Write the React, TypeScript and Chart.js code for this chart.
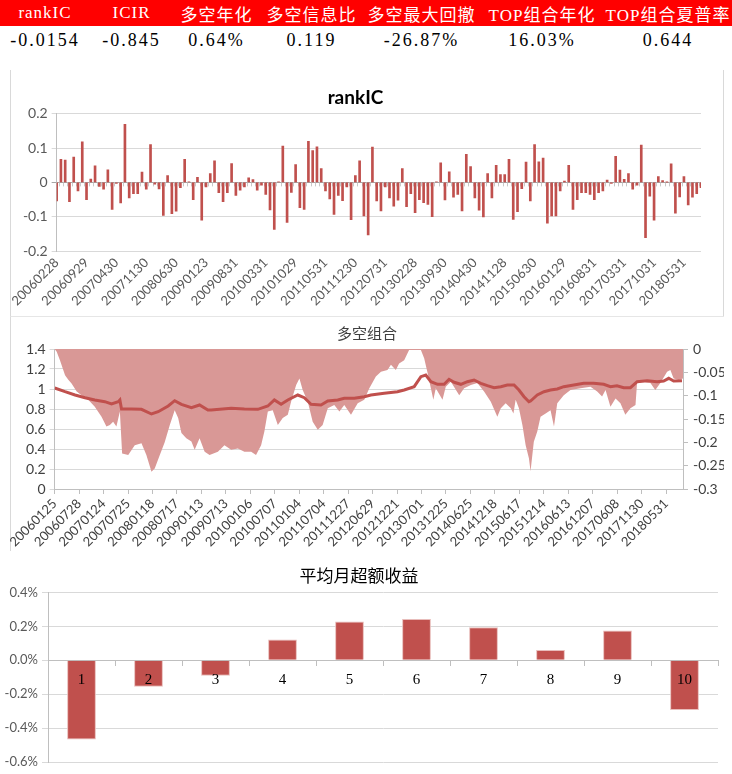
import React, { useEffect, useRef } from 'react';
import { Chart, registerables } from 'chart.js';

// Register Chart.js components
Chart.register(...registerables);

// ---- summary table ----
const statNames = ['rankIC', 'ICIR', '多空年化', '多空信息比', '多空最大回撤', 'TOP组合年化', 'TOP组合夏普率'];
const statValues = ['-0.0154', '-0.845', '0.64%', '0.119', '-26.87%', '16.03%', '0.644'];

// ---- rankIC (monthly, 200602 .. 201809) ----
const icTickLabels = [
  '20060228', '20060929', '20070430', '20071130', '20080630', '20090123', '20090831', '20100331',
  '20101029', '20110531', '20111230', '20120731', '20130228', '20130930', '20140430', '20141128',
  '20150630', '20160129', '20160831', '20170331', '20171031', '20180531',
];
const icValues = [
  -0.054, 0.067, 0.065, -0.056, 0.074, -0.025, 0.118, -0.05, 0.01, 0.048,
  -0.012, -0.02, 0.037, -0.079, -0.003, -0.06, 0.169, -0.045, -0.033, -0.033,
  0.03, -0.02, 0.11, -0.005, -0.019, -0.096, 0.02, -0.091, -0.084, -0.015,
  0.067, 0.002, -0.05, 0.015, -0.11, -0.013, 0.026, 0.063, -0.03, -0.056,
  -0.03, 0.055, -0.038, -0.023, -0.013, 0.013, 0.008, -0.023, -0.008, -0.035,
  -0.08, -0.137, 0.002, 0.106, -0.117, -0.029, 0.052, -0.074, -0.079, 0.12,
  0.093, 0.104, 0.04, -0.025, -0.048, -0.093, -0.038, -0.053, -0.013, -0.109,
  0.02, 0.063, -0.098, -0.153, 0.103, -0.054, -0.083, -0.013, -0.045, -0.069,
  -0.052, 0.04, -0.071, -0.033, -0.088, -0.05, -0.059, -0.064, -0.1, 0.002,
  0.057, -0.051, 0.031, -0.043, -0.035, -0.083, 0.082, 0.046, -0.045, -0.081,
  -0.101, 0.026, -0.045, 0.05, 0.023, 0.023, 0.067, -0.108, -0.085, -0.018,
  0.059, -0.054, 0.11, 0.06, 0.071, -0.119, -0.098, -0.098, -0.025, 0.004,
  0.05, -0.079, -0.05, -0.03, -0.03, -0.035, -0.05, -0.03, -0.025, 0.007,
  -0.003, 0.076, 0.036, 0.009, 0.026, -0.02, -0.008, 0.109, -0.161, -0.04,
  -0.11, 0.017, 0.005, 0.001, 0.054, -0.09, -0.042, 0.017, -0.066, -0.043,
  -0.033, -0.015,
];

// ---- 多空组合 (daily trading-day index) ----
const lsTickLabels = [
  '20060125', '20060728', '20070124', '20070725', '20080118', '20080717', '20090113', '20090713',
  '20100106', '20100707', '20110104', '20110704', '20111227', '20120629', '20121221', '20130701',
  '20131225', '20140625', '20141218', '20150617', '20151214', '20160613', '20161207', '20170608',
  '20171130', '20180531',
];
const lsTickStep = 120;
const lsLastDay = 3083;

// long-short NAV (left axis)
const navDays = [
  0, 51, 100, 149, 197, 246, 279, 312, 320, 328, 377, 426, 475, 508, 557, 589, 622, 671, 711, 752,
  768, 866, 931, 997, 1046, 1078, 1111, 1144, 1193, 1225, 1258, 1307, 1340, 1389, 1421, 1470, 1519, 1552, 1617, 1682,
  1715, 1764, 1797, 1821, 1846, 1879, 1911, 1935, 1960, 1993, 2025, 2058, 2091, 2123, 2156, 2189, 2221, 2254, 2278, 2303,
  2327, 2335, 2368, 2401, 2433, 2466, 2498, 2547, 2596, 2645, 2694, 2727, 2759, 2792, 2825, 2858, 2907, 2956, 2988, 3013,
  3037, 3078,
];
const navValues = [
  1.01, 0.973, 0.94, 0.913, 0.89, 0.873, 0.85, 0.873, 0.89, 0.8, 0.8, 0.797, 0.75, 0.773, 0.83, 0.883, 0.847, 0.813, 0.84, 0.79,
  0.79, 0.807, 0.8, 0.797, 0.83, 0.89, 0.847, 0.89, 0.94, 0.913, 0.847, 0.84, 0.88, 0.89, 0.907, 0.907, 0.923, 0.94, 0.957, 0.973,
  0.99, 1.023, 1.123, 1.14, 1.073, 1.047, 1.047, 1.097, 1.067, 1.047, 1.073, 1.09, 1.057, 1.033, 1.013, 1.023, 1.04, 1.04, 0.99, 0.923,
  0.873, 0.88, 0.94, 0.973, 0.99, 1.0, 1.023, 1.04, 1.057, 1.057, 1.047, 1.023, 1.033, 1.013, 1.013, 1.073, 1.083, 1.073, 1.08, 1.107,
  1.08, 1.083,
];

// drawdown (right axis)
const drawdownDays = [
  0, 10, 26, 51, 67, 83, 108, 132, 165, 197, 230, 254, 271, 287, 303, 320, 331, 361, 393, 426,
  450, 475, 491, 516, 540, 565, 589, 606, 622, 646, 671, 687, 711, 736, 760, 801, 833, 866, 899, 931,
  964, 988, 1013, 1029, 1046, 1070, 1095, 1119, 1144, 1160, 1185, 1201, 1217, 1242, 1266, 1291, 1315, 1340, 1372, 1397,
  1421, 1454, 1487, 1519, 1544, 1576, 1601, 1633, 1650, 1674, 1690, 1715, 1739, 1764, 1797, 1813, 1829, 1846, 1858, 1870,
  1903, 1919, 1944, 1985, 2009, 2042, 2074, 2107, 2140, 2172, 2189, 2213, 2238, 2251, 2262, 2278, 2295, 2311, 2327, 2335,
  2351, 2368, 2384, 2409, 2433, 2450, 2466, 2498, 2531, 2580, 2629, 2662, 2686, 2703, 2727, 2752, 2776, 2800, 2825, 2850,
  2858, 2890, 2923, 2947, 2972, 3005, 3021, 3037, 3062, 3083,
];
const drawdownValues = [
  0, -0.006, -0.024, -0.056, -0.066, -0.074, -0.091, -0.099, -0.109, -0.124, -0.145, -0.166, -0.163, -0.156, -0.166, -0.134, -0.224, -0.227, -0.206, -0.202,
  -0.227, -0.263, -0.256, -0.227, -0.2, -0.163, -0.131, -0.148, -0.18, -0.191, -0.198, -0.216, -0.191, -0.22, -0.227, -0.22, -0.206, -0.216, -0.213, -0.22,
  -0.22, -0.227, -0.206, -0.177, -0.134, -0.131, -0.163, -0.148, -0.141, -0.113, -0.077, -0.063, -0.088, -0.113, -0.156, -0.173, -0.163, -0.127, -0.12, -0.134,
  -0.12, -0.141, -0.116, -0.109, -0.084, -0.059, -0.049, -0.045, -0.034, -0.045, -0.031, -0.024, -0.002, -0.002, -0.002, -0.02, -0.05, -0.084, -0.109, -0.084,
  -0.109, -0.081, -0.07, -0.099, -0.084, -0.077, -0.073, -0.091, -0.113, -0.145, -0.127, -0.116, -0.127, -0.138, -0.109, -0.127, -0.163, -0.206, -0.234, -0.262,
  -0.199, -0.177, -0.145, -0.138, -0.131, -0.166, -0.116, -0.099, -0.088, -0.084, -0.081, -0.091, -0.102, -0.088, -0.124, -0.106, -0.116, -0.141, -0.127, -0.12,
  -0.07, -0.07, -0.073, -0.088, -0.073, -0.049, -0.045, -0.063, -0.066, -0.063,
];

// ---- 平均月超额收益 (%) ----
const groupLabels = ['1', '2', '3', '4', '5', '6', '7', '8', '9', '10'];
const groupExcess = [-0.467, -0.157, -0.092, 0.122, 0.229, 0.243, 0.194, 0.061, 0.175, -0.294];

const RED = '#C0504D';
const LATIN = 'Lato, "Liberation Sans", sans-serif';
const CJK = '"Noto Sans CJK SC", sans-serif';
const num = (v: number, d: number) => String(Number(v.toFixed(d)));

function useChart(ref: React.RefObject<HTMLCanvasElement | null>, build: () => any) {
  useEffect(() => {
    if (!ref.current) return;
    const chart = new Chart(ref.current, build());
    return () => chart.destroy();
  }, []);
}

// small tick marks on the zero line between categories (Excel style)
const zeroTicks = {
  id: 'zeroTicks',
  beforeDatasetsDraw(chart: any) {
    const x = chart.scales.x;
    const y0 = chart.scales.y.getPixelForValue(0);
    const step = x.getPixelForValue(1) - x.getPixelForValue(0);
    const ctx = chart.ctx;
    ctx.save();
    ctx.strokeStyle = '#C8C8C8';
    ctx.lineWidth = 1;
    ctx.beginPath();
    for (let i = 0; i < icValues.length - 1; i++) {
      const px = Math.round(x.getPixelForValue(i) + step / 2) + 0.5;
      ctx.moveTo(px, y0);
      ctx.lineTo(px, y0 + 4);
    }
    ctx.stroke();
    ctx.restore();
  },
};

const RankICChart: React.FC = () => {
  const ref = useRef<HTMLCanvasElement>(null);
  useChart(ref, () => ({
    type: 'bar',
    data: {
      labels: icValues.map((_, i) => String(i)),
      datasets: [{ data: icValues, backgroundColor: RED, barThickness: 2 }],
    },
    options: {
      animation: false,
      responsive: false,
      layout: { padding: { left: 0, right: 23, top: 0, bottom: 0 } },
      plugins: {
        legend: { display: false },
        tooltip: { enabled: false },
        title: {
          display: true,
          text: 'rankIC',
          color: '#000',
          font: { family: LATIN, size: 19, weight: 'bold' },
          padding: { top: 19, bottom: 5 },
        },
      },
      scales: {
        x: {
          offset: false,
          grid: { display: false, drawTicks: false },
          border: { display: false },
          ticks: {
            autoSkip: false,
            maxRotation: 45,
            minRotation: 45,
            padding: 4,
            color: '#595959',
            font: { family: LATIN, size: 13 },
            callback: (_v: any, i: number) => (i % 7 === 0 ? icTickLabels[i / 7] ?? '' : ''),
          },
          afterFit: (s: any) => { s.height = 64; },
        },
        y: {
          min: -0.2,
          max: 0.2,
          ticks: {
            stepSize: 0.1,
            padding: 4,
            color: '#595959',
            font: { family: LATIN, size: 14 },
            callback: (v: number) => num(v, 2),
          },
          grid: {
            color: (c: any) => (Math.abs(c.tick.value) < 1e-9 ? '#A6A6A6' : '#D9D9D9'),
            tickLength: 5,
          },
          border: { display: true, color: '#BFBFBF' },
          afterFit: (s: any) => { s.width = 43; },
        },
      },
    },
    plugins: [zeroTicks],
  }));
  return <canvas ref={ref} width={714} height={248} />;
};

const LongShortChart: React.FC = () => {
  const ref = useRef<HTMLCanvasElement>(null);
  useChart(ref, () => ({
    type: 'line',
    data: {
      datasets: [
        {
          label: '多空净值',
          data: navDays.map((d, i) => ({ x: d, y: navValues[i] })),
          yAxisID: 'y',
          borderColor: RED,
          borderWidth: 3,
          pointRadius: 0,
          fill: false,
        },
        {
          label: '回撤',
          data: drawdownDays.map((d, i) => ({ x: d, y: drawdownValues[i] })),
          yAxisID: 'y1',
          borderColor: 'rgba(0,0,0,0)',
          borderWidth: 0,
          backgroundColor: '#D99896',
          pointRadius: 0,
          fill: 'origin',
        },
      ],
    },
    options: {
      animation: false,
      responsive: false,
      layout: { padding: 0 },
      plugins: {
        legend: { display: false },
        tooltip: { enabled: false },
        title: {
          display: true,
          text: '多空组合',
          color: '#404040',
          font: { family: CJK, size: 15, weight: 'normal' },
          padding: { top: 8, bottom: 7 },
        },
      },
      scales: {
        x: {
          type: 'linear',
          min: 0,
          max: lsLastDay,
          afterBuildTicks: (s: any) => {
            s.ticks = lsTickLabels.map((_, i) => ({ value: i * lsTickStep }));
          },
          ticks: {
            autoSkip: false,
            maxRotation: 45,
            minRotation: 45,
            padding: 2,
            color: '#404040',
            font: { family: LATIN, size: 13 },
            callback: (v: number) => lsTickLabels[Math.round(v / lsTickStep)] ?? '',
          },
          grid: { drawOnChartArea: false, tickLength: 5, color: '#BFBFBF' },
          border: { display: true, color: '#BFBFBF' },
          afterFit: (s: any) => { s.height = 67; },
        },
        y: {
          min: 0,
          max: 1.4,
          ticks: {
            stepSize: 0.2,
            padding: 4,
            color: '#404040',
            font: { family: LATIN, size: 14 },
            callback: (v: number) => num(v, 1),
          },
          grid: { color: '#D9D9D9', tickLength: 5 },
          border: { display: true, color: '#BFBFBF' },
          afterFit: (s: any) => { s.width = 43; },
        },
        y1: {
          position: 'right',
          min: -0.3,
          max: 0,
          ticks: {
            stepSize: 0.05,
            padding: 5,
            color: '#404040',
            font: { family: LATIN, size: 14 },
            callback: (v: number) => num(v, 2),
          },
          grid: { drawOnChartArea: false, tickLength: 5, color: '#BFBFBF' },
          border: { display: true, color: '#BFBFBF' },
          afterFit: (s: any) => { s.width = 41; },
        },
      },
    },
  }));
  return <canvas ref={ref} width={714} height={240} />;
};

const GroupExcessChart: React.FC = () => {
  const ref = useRef<HTMLCanvasElement>(null);
  useChart(ref, () => ({
    type: 'bar',
    data: {
      labels: groupLabels,
      datasets: [
        {
          data: groupExcess,
          backgroundColor: RED,
          borderColor: '#E8BDBB',
          borderWidth: 1,
          barPercentage: 0.43,
          categoryPercentage: 1,
        },
      ],
    },
    options: {
      animation: false,
      responsive: false,
      layout: { padding: { left: 0, right: 14, top: 0, bottom: 12 } },
      plugins: {
        legend: { display: false },
        tooltip: { enabled: false },
        title: {
          display: true,
          text: '平均月超额收益',
          color: '#000',
          font: { family: CJK, size: 17, weight: 'normal' },
          padding: { top: 3, bottom: 7 },
        },
      },
      scales: {
        x: {
          axis: 'x',
          position: { y: 0 },
          grid: { drawOnChartArea: false, tickLength: 5, color: '#BFBFBF', offset: true },
          border: { display: true, color: '#BFBFBF' },
          ticks: {
            z: 1,
            padding: 6,
            color: '#000',
            font: { family: '"Liberation Serif", serif', size: 15 },
          },
        },
        y: {
          min: -0.6,
          max: 0.4,
          ticks: {
            stepSize: 0.2,
            padding: 4,
            color: '#595959',
            font: { family: LATIN, size: 13 },
            callback: (v: number) => (Math.abs(v) < 1e-9 ? '0.0%' : v.toFixed(1) + '%'),
          },
          grid: { color: '#D9D9D9', tickLength: 6 },
          border: { display: true, color: '#BFBFBF' },
          afterFit: (s: any) => { s.width = 48; },
        },
      },
    },
  }));
  return <canvas ref={ref} width={732} height={212} />;
};

const App: React.FC = () => {
  const colWidths = [90, 83, 87, 103, 117, 124, 128];
  const cell = (i: number): React.CSSProperties => ({ width: colWidths[i], textAlign: 'center', whiteSpace: 'nowrap' });
  return (
    <div
      style={{
        position: 'absolute',
        left: 0,
        top: 0,
        width: 732,
        height: 774,
        overflow: 'hidden',
        background: '#fff',
        fontFamily: '"Liberation Serif", "Noto Sans CJK SC", serif',
      }}
    >
      <div style={{ display: 'flex', alignItems: 'center', height: 26, background: '#FF0000', color: '#fff', fontSize: 17, letterSpacing: 1 }}>
        {statNames.map((n, i) => (
          <div key={n} style={cell(i)}>{n}</div>
        ))}
      </div>
      <div style={{ display: 'flex', alignItems: 'center', height: 28, color: '#000', fontSize: 18, letterSpacing: 2 }}>
        {statValues.map((v, i) => (
          <div key={i} style={cell(i)}>{v}</div>
        ))}
      </div>

      <div style={{ position: 'absolute', left: 10, top: 70, width: 714, height: 246, borderLeft: '1px solid #D9D9D9', borderRight: '1px solid #D9D9D9', boxSizing: 'border-box' }} />
      <div style={{ position: 'absolute', left: 10, top: 67 }}>
        <RankICChart />
      </div>

      <div style={{ position: 'absolute', left: 10, top: 316, width: 714, height: 235, borderLeft: '1px solid #D9D9D9', borderTop: '1px solid #E6E6E6', boxSizing: 'border-box' }} />
      <div style={{ position: 'absolute', left: 10, top: 316 }}>
        <LongShortChart />
      </div>

      <div style={{ position: 'absolute', left: 0, top: 562 }}>
        <GroupExcessChart />
      </div>
    </div>
  );
};

export default App;
